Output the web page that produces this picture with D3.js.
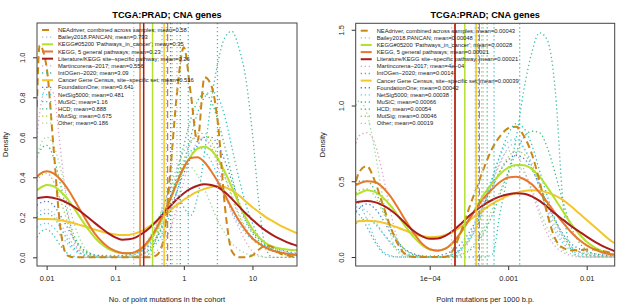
<!DOCTYPE html>
<html>
<head>
<meta charset="utf-8">
<script src="https://cdn.jsdelivr.net/npm/d3@7"></script>
<style>
body { margin: 0; background: #fff; }
svg { font-family: "Liberation Sans", Arial, sans-serif; }
</style>
</head>
<body>
<svg id="chart" width="617" height="305"></svg>
<script>
// legend order
const seriesNames = ["NEAdriver, combined across samples", "Bailey2018.PANCAN", "KEGG#05200 'Pathways_in_cancer'",
    "KEGG, 5 general pathways", "Literature/KEGG site\u2212specific pathway", "Martincorena\u22122017", "IntOGen\u22122020",
    "Cancer Gene Census, site\u2212specific set", "FoundationOne", "NetSig5000", "MuSiC", "HCD", "MutSig", "Other"];

const leftMeans = [0.58, 0.793, 0.35, 0.23, 0.26, 0.556, 3.09, 0.516, 0.641, 0.481, 1.16, 0.888, 0.675, 0.186];
const leftMeanText = ["0.58", "0.793", "0.35", "0.23", "0.26", "0.556", "3.09", "0.516", "0.641", "0.481", "1.16", "0.888", "0.675", "0.186"];
const rightMeans = [0.00043, 0.00048, 0.00028, 0.00021, 0.00021, 0.0004, 0.0014, 0.00039, 0.00042, 0.00038, 0.00066, 0.00054, 0.00046, 0.00019];
const rightMeanText = ["0.00043", "0.00048", "0.00028", "0.00021", "0.00021", "4e\u221204", "0.0014", "0.00039", "0.00042", "0.00038", "0.00066", "0.00054", "0.00046", "0.00019"];

// x grid where densities were read (no. of point mutations)
const leftX = [0.0072, 0.0079, 0.01, 0.0126, 0.0158, 0.02, 0.0251, 0.0316, 0.0398, 0.0501,
    0.0631, 0.0794, 0.1, 0.126, 0.158, 0.2, 0.251, 0.316, 0.398, 0.501,
    0.631, 0.794, 1, 1.26, 1.58, 2, 2.51, 3.16, 3.98, 5.01,
    6.31, 7.94, 10, 12.6, 15.8, 20, 25.1, 31.6, 44.7];

const leftDensity = [
    [.75,1.06,.95,.55,.15,.01,0,0,0,0, 0,0,0,0,0,0,0,0,.01,.08, .42,.82,1.05,.82,.58,.9,.86,.66,.25,.03, 0,0,.01,.04,.06,.05,.02,.01,0],
    [.22,.23,.24,.22,.17,.11,.06,.03,.015,.01, .01,.01,.01,.01,.015,.025,.05,.09,.16,.25, .35,.45,.53,.58,.6,.59,.55,.48,.4,.31, .22,.15,.1,.07,.05,.035,.025,.02,.015],
    [.335,.345,.362,.355,.33,.293,.245,.193,.143,.1, .066,.042,.028,.021,.02,.026,.045,.08,.135,.205, .285,.37,.445,.505,.543,.553,.535,.49,.425,.35, .27,.2,.14,.098,.07,.053,.044,.039,.035],
    [.4,.415,.43,.42,.39,.345,.29,.23,.172,.12, .08,.05,.032,.022,.02,.028,.05,.09,.145,.215, .29,.375,.45,.497,.5,.475,.43,.375,.31,.245, .185,.135,.095,.068,.047,.033,.024,.018,.012],
    [.295,.298,.302,.297,.288,.272,.252,.228,.2,.172, .145,.12,.1,.088,.09,.1,.12,.147,.18,.218, .255,.29,.32,.343,.358,.365,.362,.35,.325,.292, .256,.22,.188,.158,.132,.11,.092,.076,.058],
    [.6,.72,.85,.82,.55,.25,.08,.02,0,0, 0,0,0,0,0,0,0,.01,.03,.07, .14,.25,.38,.5,.58,.6,.55,.45,.32,.22, .15,.08,.03,.01,0,0,0,0,0],
    [.1,.12,.14,.11,.06,.02,.005,0,0,0, 0,0,0,0,0,0,0,.02,.1,.24, .34,.32,.25,.21,.3,.52,.78,.98,1.1,1.13, 1.05,.9,.62,.25,.04,0,0,0,0],
    [.19,.191,.192,.19,.185,.178,.17,.16,.15,.139, .129,.12,.114,.111,.112,.12,.133,.155,.18,.207, .235,.262,.288,.31,.328,.342,.352,.356,.35,.335, .31,.28,.25,.225,.2,.18,.16,.143,.12],
    [.26,.27,.28,.26,.21,.15,.09,.05,.025,.012, .008,.006,.006,.008,.012,.02,.035,.06,.1,.16, .24,.33,.42,.5,.56,.6,.6,.56,.48,.38, .28,.19,.13,.09,.065,.05,.04,.03,.02],
    [.15,.16,.17,.15,.11,.07,.035,.015,.005,0, 0,0,0,0,.005,.015,.035,.07,.13,.21, .3,.39,.47,.53,.55,.53,.48,.4,.31,.23, .17,.12,.09,.07,.055,.045,.035,.025,.015],
    [.2,.21,.22,.2,.15,.09,.045,.02,.008,.003, 0,0,0,0,0,.005,.015,.035,.07,.13, .22,.33,.46,.6,.72,.8,.83,.8,.7,.55, .4,.27,.17,.1,.06,.035,.02,.012,.006],
    [.5,.53,.56,.5,.37,.22,.11,.05,.02,.008, .003,0,0,0,0,.005,.015,.04,.09,.17, .28,.42,.56,.69,.78,.82,.78,.68,.55,.41, .27,.18,.12,.08,.055,.04,.03,.02,.01],
    [.38,.4,.42,.38,.29,.18,.09,.04,.015,.005, 0,0,0,0,0,.005,.02,.05,.1,.18, .28,.39,.49,.57,.62,.62,.58,.5,.4,.3, .21,.14,.09,.06,.04,.03,.02,.015,.01],
    [.5,.55,.6,.56,.45,.3,.17,.08,.03,.01, .003,0,0,0,.005,.02,.05,.1,.17,.26, .34,.41,.45,.45,.41,.34,.26,.18,.12,.07, .04,.02,.01,.005,0,0,0,0,0]
];

// x grid, point mutations per 1000 b.p.
const rightX = [1.15e-5, 1.26e-5, 1.58e-5, 2.0e-5, 2.51e-5, 3.16e-5, 3.98e-5, 5.01e-5, 6.31e-5, 7.94e-5,
    1e-4, 1.26e-4, 1.58e-4, 2e-4, 2.51e-4, 3.16e-4, 3.98e-4, 5.01e-4, 6.31e-4, 7.94e-4,
    1e-3, 1.26e-3, 1.58e-3, 2e-3, 2.51e-3, 3.16e-3, 3.98e-3, 5.01e-3, 6.31e-3, 7.94e-3,
    0.01, 0.0126, 0.0158, 0.02, 0.0229];

const rightDensity = [
    [.5,.56,.6,.5,.35,.2,.08,.015,0,0, 0,0,0,.05,.17,.32,.46,.6,.72,.8, .85,.86,.8,.68,.5,.28,.12,.06,.045,.045, .05,.05,.04,.03,.025],
    [.33,.33,.3,.24,.16,.09,.04,.015,.005,0, 0,0,.005,.02,.06,.13,.23,.36,.5,.62, .72,.75,.72,.62,.48,.33,.2,.11,.06,.035, .025,.02,.015,.01,.008],
    [.41,.42,.44,.43,.395,.34,.27,.195,.13,.08, .05,.043,.055,.095,.16,.245,.335,.42,.49,.55, .59,.607,.605,.58,.53,.46,.38,.3,.22,.155, .1,.063,.038,.022,.016],
    [.475,.485,.5,.495,.46,.4,.32,.235,.155,.09, .052,.042,.055,.1,.165,.245,.325,.395,.45,.497, .525,.53,.515,.48,.425,.36,.29,.225,.165,.115, .077,.05,.03,.018,.013],
    [.36,.365,.37,.362,.342,.31,.268,.217,.17,.138, .12,.122,.14,.175,.22,.27,.312,.348,.378,.4, .414,.42,.418,.4,.37,.33,.285,.245,.205,.17, .135,.102,.074,.05,.038],
    [.75,.8,.82,.75,.55,.3,.1,.02,0,0, 0,0,0,.01,.04,.1,.2,.34,.5,.63, .7,.68,.58,.43,.28,.15,.07,.03,.01,0, 0,0,0,0,0],
    [.3,.28,.2,.1,.03,.005,0,0,0,0, 0,0,0,0,0,0,0,0,.02,.3, .55,.78,1.1,1.35,1.48,1.43,1.1,.35,.05,.005, 0,0,0,0,0],
    [.232,.236,.24,.236,.227,.212,.193,.172,.152,.138, .131,.133,.145,.168,.2,.24,.28,.318,.352,.38, .405,.423,.435,.44,.437,.425,.405,.375,.335,.29, .245,.2,.155,.11,.09],
    [.3,.32,.35,.32,.25,.16,.09,.045,.02,.008, .005,.008,.02,.045,.09,.16,.25,.36,.47,.57, .64,.67,.65,.58,.47,.35,.24,.15,.09,.055, .035,.022,.014,.008,.005],
    [.38,.35,.25,.12,.04,.01,0,0,0,0, 0,0,.005,.02,.06,.13,.24,.38,.53,.67, .76,.78,.72,.6,.45,.3,.17,.09,.045,.02, .01,.005,0,0,0],
    [.22,.24,.25,.22,.16,.1,.05,.02,.008,.003, 0,0,.005,.02,.05,.11,.21,.35,.52,.68, .81,.88,.85,.74,.57,.4,.25,.14,.07,.035, .017,.008,.004,.002,0],
    [.48,.5,.5,.44,.32,.2,.1,.04,.015,.005, 0,0,0,.005,.015,.04,.09,.17,.28,.42, .56,.69,.79,.83,.82,.72,.55,.36,.2,.1, .045,.02,.01,.004,.002],
    [.42,.44,.45,.4,.3,.19,.1,.045,.018,.006, 0,0,.005,.018,.05,.11,.2,.32,.45,.57, .66,.7,.68,.6,.48,.35,.23,.13,.07,.035, .017,.008,.004,.002,0],
    [1.0,1.03,.95,.7,.4,.15,.03,.005,0,0, 0,0,0,.005,.02,.05,.11,.2,.32,.44, .55,.6,.56,.45,.31,.19,.1,.045,.02,.008, .003,0,0,0,0]
];

const leftXTicks = [0.01, 0.1, 1, 10];
const leftXTickText = ["0.01", "0.1", "1", "10"];
const rightXTicks = [1e-4, 1e-3, 1e-2];
const rightXTickText = ["1e\u221204", "0.001", "0.01"];
const leftYTicks = [0, 0.2, 0.4, 0.6, 0.8, 1.0];
const rightYTicks = [0, 0.5, 1.0, 1.5];

// styles
const seriesColors = ["#c98716", "#a9bfd4", "#b4e02e", "#e8772e", "#aa1c1c", "#dba6cb", "#3cbfae", "#f3c62a",
    "#4f80d6", "#5fcdf0", "#2fc3c6", "#3dbd7a", "#a9cb3a", "#9ed99a"];
const seriesKind = ["dash", "dot", "solid", "solid", "solid", "dot", "dot", "solid", "dot", "dot", "dot", "dot", "dot", "dot"];
const drawOrder = [1, 5, 6, 8, 9, 10, 11, 12, 13, 7, 2, 3, 4, 0];

const svg = d3.select("#chart");

function styleLine(sel, i, vertical) {
    const k = seriesKind[i];
    sel.attr("fill", "none")
        .attr("stroke", seriesColors[i])
        .attr("stroke-width", k === "solid" ? (vertical ? 1.5 : 2) : (k === "dash" ? (vertical ? 1.2 : 2) : 1.3))
        .attr("stroke-dasharray", k === "solid" ? null : (k === "dash" ? "7,4" : "1.3,2.7"));
}

function drawPanel(p) {
    const x = d3.scaleLog().domain(p.xDomain).range([p.left, p.right]);
    const y = d3.scaleLinear().domain(p.yDomain).range([p.bottom, p.top]);
    const g = svg.append("g");

    g.append("clipPath").attr("id", p.id)
        .append("rect")
        .attr("x", p.left).attr("y", p.top)
        .attr("width", p.right - p.left).attr("height", p.bottom - p.top);

    const plot = g.append("g").attr("clip-path", `url(#${p.id})`);

    const line = d3.line()
        .x((d, i) => x(p.xs[i]))
        .y(d => y(d))
        .curve(d3.curveMonotoneX);

    drawOrder.forEach(i => {
        plot.append("path")
            .attr("d", line(p.dens[i]))
            .call(styleLine, i, false);
    });

    // means
    drawOrder.forEach(i => {
        plot.append("line")
            .attr("x1", x(p.means[i])).attr("x2", x(p.means[i]))
            .attr("y1", p.top).attr("y2", p.bottom)
            .call(styleLine, i, true);
    });

    // axes
    const xAxis = g.append("g")
        .attr("transform", `translate(0,${p.bottom})`)
        .call(d3.axisBottom(x).tickValues(p.xTicks).tickFormat((d, i) => p.xTickText[i]).tickSize(4));
    xAxis.select(".domain").remove();
    xAxis.selectAll(".tick line").attr("stroke", "#333");
    xAxis.selectAll(".tick text").attr("y", 10).attr("font-size", 7.5).attr("fill", "#222").attr("font-family", null);

    const yAxis = g.append("g")
        .attr("transform", `translate(${p.left},0)`)
        .call(d3.axisLeft(y).tickValues(p.yTicks).tickFormat(d3.format(".1f")).tickSize(4));
    yAxis.select(".domain").remove();
    yAxis.selectAll(".tick line").attr("stroke", "#333");
    yAxis.selectAll(".tick text")
        .attr("transform", "rotate(-90)")
        .attr("x", 0).attr("y", -12).attr("dy", 0)
        .attr("text-anchor", "middle")
        .attr("font-size", 7.5).attr("fill", "#222").attr("font-family", null);

    g.append("rect")
        .attr("x", p.left).attr("y", p.top)
        .attr("width", p.right - p.left).attr("height", p.bottom - p.top)
        .attr("fill", "none").attr("stroke", "#444").attr("stroke-width", 1);

    g.append("text")
        .attr("x", (p.left + p.right) / 2).attr("y", 18)
        .attr("text-anchor", "middle").attr("font-weight", "bold").attr("font-size", 9.2)
        .text(p.title);

    g.append("text")
        .attr("x", (p.left + p.right) / 2).attr("y", 301.5)
        .attr("text-anchor", "middle").attr("font-size", 7.5).attr("fill", "#222")
        .text(p.xTitle);

    g.append("text")
        .attr("transform", `translate(${p.yTitleX},${(p.top + p.bottom) / 2}) rotate(-90)`)
        .attr("text-anchor", "middle").attr("font-size", 7.5).attr("fill", "#222")
        .text("Density");

    // legend (no box)
    const legend = g.append("g");
    seriesNames.forEach((name, i) => {
        const ly = p.legendY + i * p.legendStep;
        legend.append("line")
            .attr("x1", p.left + 5).attr("x2", p.left + 16)
            .attr("y1", ly).attr("y2", ly)
            .call(styleLine, i, false);
        legend.append("text")
            .attr("x", p.left + 21).attr("y", ly + 2)
            .attr("font-size", 5.8).attr("fill", "#222")
            .text(`${name}; mean=${p.meanText[i]}`);
    });
}

drawPanel({
    id: "clipL", left: 37, right: 297, top: 23, bottom: 266,
    xDomain: [0.00724, 44.6], yDomain: [-0.0435, 1.1715],
    xs: leftX, dens: leftDensity, means: leftMeans, meanText: leftMeanText,
    xTicks: leftXTicks, xTickText: leftXTickText, yTicks: leftYTicks,
    title: "TCGA:PRAD; CNA genes", xTitle: "No. of point mutations in the cohort",
    yTitleX: 7.5, legendY: 30, legendStep: 7.17
});

drawPanel({
    id: "clipR", left: 355.7, right: 614.7, top: 23.3, bottom: 266,
    xDomain: [1.14e-5, 0.02275], yDomain: [-0.0594, 1.5426],
    xs: rightX, dens: rightDensity, means: rightMeans, meanText: rightMeanText,
    xTicks: rightXTicks, xTickText: rightXTickText, yTicks: rightYTicks,
    title: "TCGA:PRAD; CNA genes", xTitle: "Point mutations per 1000 b.p.",
    yTitleX: 325, legendY: 30.7, legendStep: 7.13
});
</script>
</body>
</html>
